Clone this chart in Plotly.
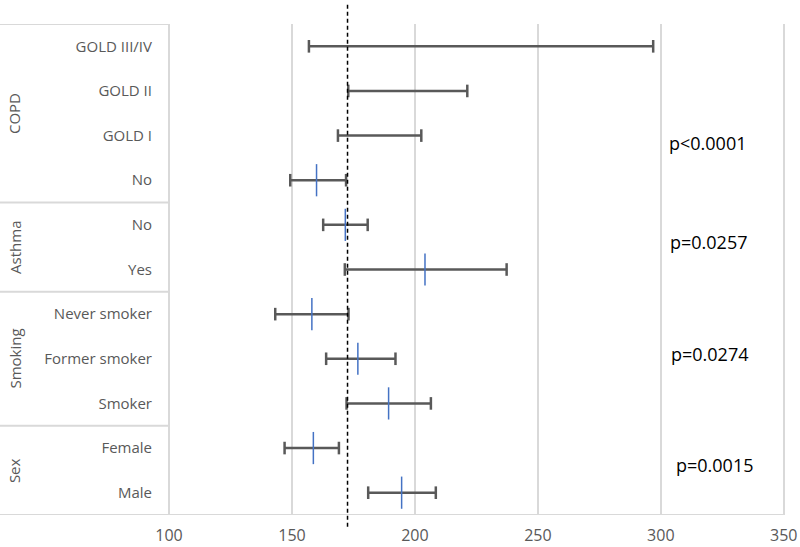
import plotly.graph_objects as go

# ---- data ----
categories = ["GOLD III/IV", "GOLD II", "GOLD I", "No", "No", "Yes",
              "Never smoker", "Former smoker", "Smoker", "Female", "Male"]
groups = ["COPD", "Asthma", "Smoking", "Sex"]
group_sizes = [4, 2, 3, 2]
estimate = [None, None, None, 160.0, 171.7, 204.1, 158.1, 176.8, 189.3, 158.7, 194.6]
ci_low = [156.9, 172.9, 168.7, 149.3, 162.7, 171.5, 143.2, 163.9, 172.2, 147.0, 181.0]
ci_high = [296.9, 221.3, 202.6, 172.0, 180.8, 237.3, 173.0, 192.1, 206.5, 169.1, 208.5]
overall_mean = 172.6
p_values = ["p<0.0001", "p=0.0257", "p=0.0274", "p=0.0015"]
x_ticks = [100, 150, 200, 250, 300, 350]

FONT = "Open Sans"
GRAY_TXT = "#595959"
LINE = "#d9d9d9"

rows = list(range(len(categories)))

fig = go.Figure()

# CI whiskers
xs, ys = [], []
for i, (lo, hi) in enumerate(zip(ci_low, ci_high)):
    xs += [lo, hi, None]
    ys += [i, i, None]
fig.add_trace(go.Scatter(x=xs, y=ys, mode="lines",
                         line=dict(color="#595959", width=2.5),
                         hoverinfo="skip", showlegend=False))
# caps
cx, cy = [], []
for i, (lo, hi) in enumerate(zip(ci_low, ci_high)):
    cx += [lo, hi]
    cy += [i, i]
fig.add_trace(go.Scatter(x=cx, y=cy, mode="markers",
                         marker=dict(symbol="line-ns", size=9,
                                     line=dict(color="#595959", width=2.5)),
                         hoverinfo="skip", showlegend=False))
# estimates
fig.add_trace(go.Scatter(x=estimate, y=rows, mode="markers",
                         marker=dict(symbol="line-ns", size=23,
                                     line=dict(color="#4472C4", width=1.5)),
                         showlegend=False))

shapes = []
# reference dashed line
shapes.append(dict(type="line", xref="x", yref="paper", x0=overall_mean, x1=overall_mean,
                   y0=-0.024, y1=1.045, line=dict(color="black", width=1.5, dash="4px,3px"),
                   layer="above"))
# group separators in the label column
left = -169 / 615
bounds = [-0.5]
acc = -0.5
for s in group_sizes:
    acc += s
    bounds.append(acc)
for b in bounds[:-1]:
    shapes.append(dict(type="line", xref="paper", yref="y", x0=left, x1=0, y0=b, y1=b,
                       line=dict(color=LINE, width=2), layer="below"))
# bottom axis line across
shapes.append(dict(type="line", xref="paper", yref="y", x0=left, x1=1,
                   y0=bounds[-1], y1=bounds[-1], line=dict(color=LINE, width=2), layer="below"))
# left vertical border
shapes.append(dict(type="line", xref="paper", yref="y", x0=0, x1=0,
                   y0=bounds[0], y1=bounds[-1], line=dict(color=LINE, width=2), layer="below"))

annotations = []
# group labels
start = 0
for g, s in zip(groups, group_sizes):
    mid = start + (s - 1) / 2
    annotations.append(dict(text=g, xref="paper", yref="y", x=(15 - 169) / 615, y=mid,
                            xanchor="center", yanchor="middle",
                            textangle=-90, showarrow=False,
                            font=dict(family=FONT, size=15, color=GRAY_TXT)))
    start += s
# p-values
p_pos = [(707, 2.17), (708, 4.38), (709, 6.89), (714, 9.38)]
for txt, (px, py) in zip(p_values, p_pos):
    annotations.append(dict(text=txt, xref="paper", yref="y", x=(px - 169) / 615, y=py,
                            xanchor="center", yanchor="middle",
                            showarrow=False, font=dict(family=FONT, size=18, color="black")))

fig.update_layout(
    width=800, height=547,
    margin=dict(l=169, r=15, t=24, b=32, autoexpand=False),
    paper_bgcolor="white", plot_bgcolor="white",
    font=dict(family=FONT, color=GRAY_TXT, size=15),
    xaxis=dict(range=[100, 350.5], tickvals=x_ticks, showgrid=True, gridcolor=LINE,
               gridwidth=2, zeroline=False, showline=False, ticks="", automargin=False,
               ticklabelstandoff=9,
               tickfont=dict(family=FONT, size=16, color=GRAY_TXT)),
    yaxis=dict(range=[len(categories) - 0.5, -0.5], tickvals=rows, ticktext=categories,
               showgrid=False, zeroline=False, showline=False, ticks="", automargin=False,
               ticklabelstandoff=16,
               tickfont=dict(family=FONT, size=15, color=GRAY_TXT)),
    shapes=shapes, annotations=annotations,
)

fig.write_html("out.html", config={"displayModeBar": False},
               post_script="document.body.style.margin='0';")
